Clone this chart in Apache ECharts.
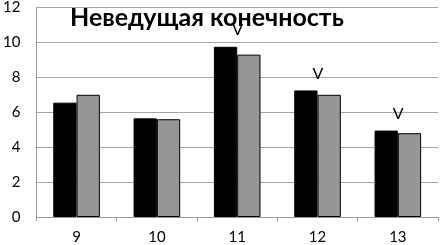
<!DOCTYPE html>
<html>
<head>
<meta charset="utf-8">
<script src="https://cdn.jsdelivr.net/npm/echarts@6/dist/echarts.min.js"></script>
<style>
  html, body { margin: 0; padding: 0; background: #fff; }
  #main { width: 440px; height: 245px; }
</style>
</head>
<body>
<div id="main"></div>
<script>
var categories = ['9', '10', '11', '12', '13'];
var blackValues = [6.55, 5.65, 9.75, 7.25, 4.95];
var grayValues = [7.0, 5.6, 9.3, 7.0, 4.8];
var marks = ['', '', 'V', 'V', 'V'];
var titleText = 'Неведущая конечность';

var font = 'Lato, "Open Sans", sans-serif';

var option = {
  animation: false,
  title: {
    text: titleText,
    left: 65,
    top: 0,
    textStyle: { fontFamily: font, fontSize: 25, fontWeight: 'bold', color: '#000' }
  },
  grid: { left: 30, right: 2, top: 5, bottom: 27 },
  xAxis: {
    type: 'category',
    data: categories,
    axisLine: { lineStyle: { color: '#9a9a9a', width: 1 } },
    axisTick: { show: true, length: 4, lineStyle: { color: '#9a9a9a' } },
    axisLabel: { fontFamily: font, fontSize: 15, color: '#000', margin: 13 }
  },
  yAxis: {
    type: 'value',
    min: 0,
    max: 12,
    interval: 2,
    axisLine: { show: true, lineStyle: { color: '#9a9a9a' } },
    axisTick: { show: false },
    splitLine: { lineStyle: { color: '#a6a6a6', width: 1 } },
    axisLabel: { fontFamily: font, fontSize: 15, color: '#000', margin: 16 }
  },
  series: [
    {
      type: 'bar',
      data: blackValues,
      barGap: '0%',
      barCategoryGap: '42%',
      itemStyle: { color: '#000', borderColor: '#000', borderWidth: 1 },
      label: {
        show: true,
        position: 'top',
        offset: [12, -4],
        fontFamily: font,
        fontSize: 16,
        color: '#000',
        formatter: function (p) { return marks[p.dataIndex]; }
      }
    },
    {
      type: 'bar',
      data: grayValues,
      itemStyle: { color: '#969696', borderColor: '#000', borderWidth: 1 }
    }
  ]
};

var myChart = echarts.init(document.getElementById('main'));
myChart.setOption(option);
</script>
</body>
</html>
